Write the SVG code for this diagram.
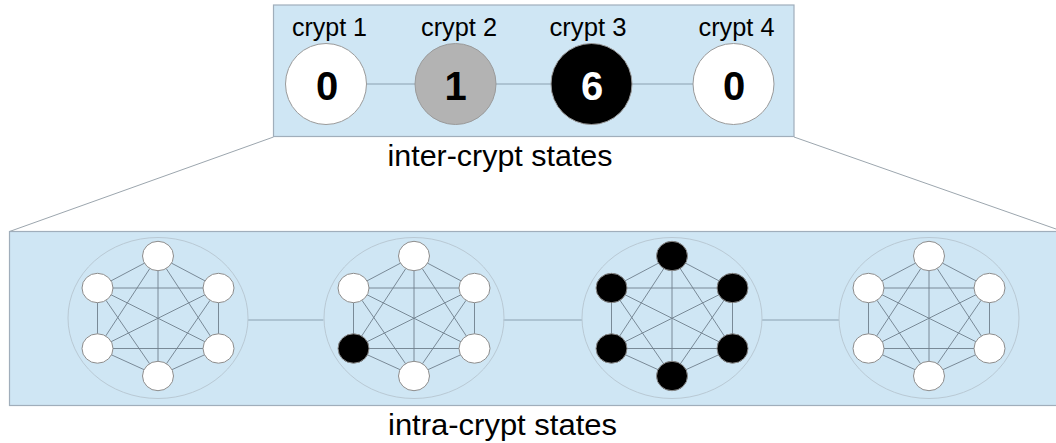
<svg xmlns="http://www.w3.org/2000/svg" width="1056" height="443" viewBox="0 0 1056 443">
  <style>
    .panel { fill: #cfe6f4; stroke: #a0aebb; stroke-width: 1.2; }
    .guide { stroke: #9ca6ae; stroke-width: 1; fill: none; }
    .link { stroke: #8aa0b0; stroke-width: 1; fill: none; }
    .crypt { stroke: #9a9a9a; stroke-width: 1; }
    .label { font-family: "Liberation Sans", Arial, sans-serif; font-size: 25px; fill: #000; text-anchor: middle; }
    .count { font-family: "Liberation Sans", Arial, sans-serif; font-size: 40px; font-weight: bold; text-anchor: middle; }
    .caption { font-family: "Liberation Sans", Arial, sans-serif; font-size: 30px; fill: #000; text-anchor: middle; }
    .hull { fill: none; stroke: #b9c9d4; stroke-width: 1; }
    .edge { stroke: #6f7f8c; stroke-width: 0.9; fill: none; }
    .cell { stroke: #8c8c8c; stroke-width: 1; }
    .off { fill: #ffffff; }
    .on { fill: #000000; }
  </style>
  <defs>
    <!-- complete graph K6 on six cell positions, centred on (0,0) -->
    <g id="k6">
      <ellipse class="hull" cx="0" cy="0" rx="90" ry="80.5"/>
      <path class="edge" d="M0,-62 L-60.5,-30 M0,-62 L60.5,-30 M0,-62 L-60.5,30.5 M0,-62 L60.5,30.5 M0,-62 L0,58
        M-60.5,-30 L60.5,-30 M-60.5,-30 L-60.5,30.5 M-60.5,-30 L60.5,30.5 M-60.5,-30 L0,58
        M60.5,-30 L-60.5,30.5 M60.5,-30 L60.5,30.5 M60.5,-30 L0,58
        M-60.5,30.5 L60.5,30.5 M-60.5,30.5 L0,58
        M60.5,30.5 L0,58"/>
    </g>
  </defs>

  <!-- zoom guides from the crypt row to the cell view -->
  <g id="guides">
    <line class="guide" x1="273.5" y1="137" x2="9.5" y2="231.5"/>
    <line class="guide" x1="794" y1="137" x2="1056" y2="229"/>
  </g>

  <!-- inter-crypt panel -->
  <g id="inter-panel">
    <rect class="panel" x="273.5" y="5" width="520.5" height="131.5"/>
  </g>

  <g id="inter-links">
    <line class="link" x1="366.5" y1="84" x2="415" y2="84"/>
    <line class="link" x1="496" y1="84" x2="551" y2="84"/>
    <line class="link" x1="632" y1="84" x2="693" y2="84"/>
  </g>

  <g id="crypt1">
    <text class="label" x="329.5" y="36" textLength="75" lengthAdjust="spacingAndGlyphs">crypt 1</text>
    <circle class="crypt" cx="326" cy="84" r="40.5" fill="#ffffff"/>
    <text class="count" x="327" y="100" fill="#000">0</text>
  </g>
  <g id="crypt2">
    <text class="label" x="459" y="36" textLength="76" lengthAdjust="spacingAndGlyphs">crypt 2</text>
    <circle class="crypt" cx="455.5" cy="84" r="40.5" fill="#b3b3b3" stroke="#888"/>
    <text class="count" x="455.5" y="100" fill="#000">1</text>
  </g>
  <g id="crypt3">
    <text class="label" x="588" y="36" textLength="77" lengthAdjust="spacingAndGlyphs">crypt 3</text>
    <circle class="crypt" cx="591.5" cy="84" r="40.5" fill="#000000" stroke="#333"/>
    <text class="count" x="592" y="100" fill="#fff">6</text>
  </g>
  <g id="crypt4">
    <text class="label" x="736.5" y="36" textLength="76" lengthAdjust="spacingAndGlyphs">crypt 4</text>
    <circle class="crypt" cx="733.5" cy="84" r="40.5" fill="#ffffff"/>
    <text class="count" x="734" y="100" fill="#000">0</text>
  </g>

  <g id="inter-caption">
    <text class="caption" x="500" y="166" textLength="225" lengthAdjust="spacingAndGlyphs">inter-crypt states</text>
  </g>

  <!-- intra-crypt panel -->
  <g id="intra-panel">
    <rect class="panel" x="9.5" y="231.5" width="1060" height="174"/>
  </g>

  <g id="intra-links">
    <line class="link" x1="248" y1="320" x2="323.5" y2="320"/>
    <line class="link" x1="503.5" y1="320" x2="582" y2="320"/>
    <line class="link" x1="762" y1="320" x2="839" y2="320"/>
  </g>

  <!-- crypt 1: no marked cells -->
  <g id="cells1" transform="translate(158,318)">
    <use href="#k6"/>
    <ellipse class="cell off" cx="0" cy="-62" rx="15.5" ry="14.7"/>
    <ellipse class="cell off" cx="-60.5" cy="-30" rx="15.5" ry="14.7"/>
    <ellipse class="cell off" cx="60.5" cy="-30" rx="15.5" ry="14.7"/>
    <ellipse class="cell off" cx="-60.5" cy="30.5" rx="15.5" ry="14.7"/>
    <ellipse class="cell off" cx="60.5" cy="30.5" rx="15.5" ry="14.7"/>
    <ellipse class="cell off" cx="0" cy="58" rx="15.5" ry="14.7"/>
  </g>

  <!-- crypt 2: one marked cell -->
  <g id="cells2" transform="translate(414,318)">
    <use href="#k6"/>
    <ellipse class="cell off" cx="0" cy="-62" rx="15.5" ry="14.7"/>
    <ellipse class="cell off" cx="-60.5" cy="-30" rx="15.5" ry="14.7"/>
    <ellipse class="cell off" cx="60.5" cy="-30" rx="15.5" ry="14.7"/>
    <ellipse class="cell on" cx="-60.5" cy="30.5" rx="15.5" ry="14.7"/>
    <ellipse class="cell off" cx="60.5" cy="30.5" rx="15.5" ry="14.7"/>
    <ellipse class="cell off" cx="0" cy="58" rx="15.5" ry="14.7"/>
  </g>

  <!-- crypt 3: all six cells marked -->
  <g id="cells3" transform="translate(672,318)">
    <use href="#k6"/>
    <ellipse class="cell on" cx="0" cy="-62" rx="15.5" ry="14.7"/>
    <ellipse class="cell on" cx="-60.5" cy="-30" rx="15.5" ry="14.7"/>
    <ellipse class="cell on" cx="60.5" cy="-30" rx="15.5" ry="14.7"/>
    <ellipse class="cell on" cx="-60.5" cy="30.5" rx="15.5" ry="14.7"/>
    <ellipse class="cell on" cx="60.5" cy="30.5" rx="15.5" ry="14.7"/>
    <ellipse class="cell on" cx="0" cy="58" rx="15.5" ry="14.7"/>
  </g>

  <!-- crypt 4: no marked cells -->
  <g id="cells4" transform="translate(929,318)">
    <use href="#k6"/>
    <ellipse class="cell off" cx="0" cy="-62" rx="15.5" ry="14.7"/>
    <ellipse class="cell off" cx="-60.5" cy="-30" rx="15.5" ry="14.7"/>
    <ellipse class="cell off" cx="60.5" cy="-30" rx="15.5" ry="14.7"/>
    <ellipse class="cell off" cx="-60.5" cy="30.5" rx="15.5" ry="14.7"/>
    <ellipse class="cell off" cx="60.5" cy="30.5" rx="15.5" ry="14.7"/>
    <ellipse class="cell off" cx="0" cy="58" rx="15.5" ry="14.7"/>
  </g>

  <g id="intra-caption">
    <text class="caption" x="502.5" y="435" textLength="229" lengthAdjust="spacingAndGlyphs">intra-crypt states</text>
  </g>
</svg>
